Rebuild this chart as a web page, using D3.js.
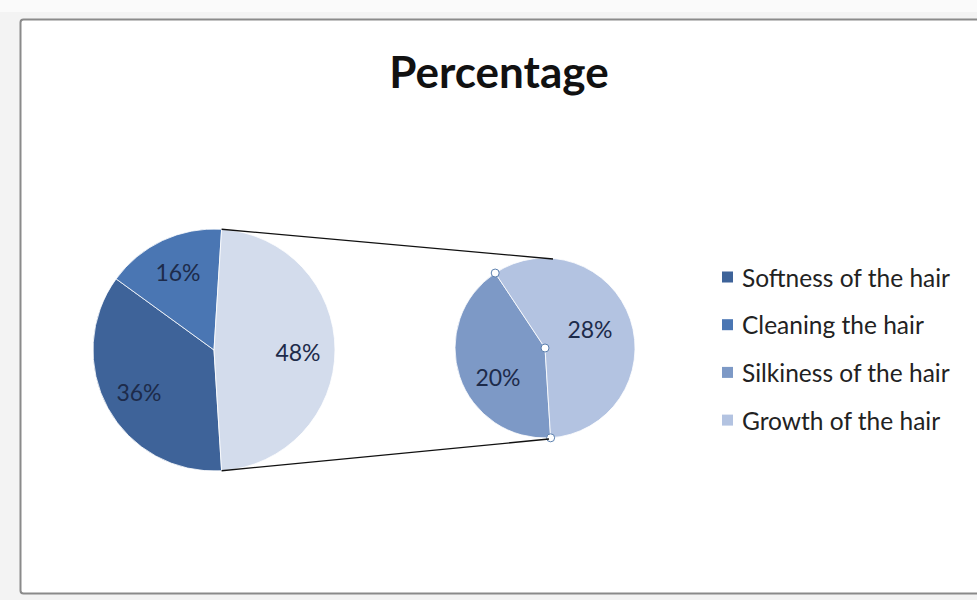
<!DOCTYPE html>
<html><head><meta charset="utf-8">
<script src="https://cdn.jsdelivr.net/npm/d3@7"></script>
<style>html,body{margin:0;padding:0;background:#fff;}svg{display:block;}</style>
</head><body>
<svg id="c" width="977" height="600"></svg>
<script>
const title = "Percentage";
const categories = ["Softness of the hair", "Cleaning the hair", "Silkiness of the hair", "Growth of the hair"];
const values = [36, 16, 20, 28];
const primaryLabels = ["36%", "16%", "48%"];
const secondaryLabels = ["20%", "28%"];
const colors = ["#3e6399", "#4a76b3", "#7d99c6", "#b3c3e1"];
const otherColor = "#d3dcec";
const FONT = "Lato, 'Open Sans', sans-serif";

const svg = d3.select("#c");
// sheet background + chart frame
svg.append("rect").attr("width",977).attr("height",600).attr("fill","#f3f3f3");
svg.append("rect").attr("x",0).attr("y",0).attr("width",977).attr("height",12).attr("fill","#fafafa");
svg.append("rect").attr("x",20.5).attr("y",19.5).attr("width",970).attr("height",574)
  .attr("rx",3).attr("fill","#fff").attr("stroke","#8a8a8a").attr("stroke-width",2);

svg.append("text").attr("x",499).attr("y",88).attr("text-anchor","middle")
  .attr("font-family",FONT).attr("font-weight","bold")
  .attr("font-size",44).attr("fill","#111").text(title);

const deg = Math.PI/180;
// primary pie: Other slice centered at 90deg (right)
const otherVal = values[2] + values[3];
const primaryVals = [values[0], values[1], otherVal];
const total = d3.sum(primaryVals);
const otherSpan = otherVal/total*360;
const otherStart = 90 - otherSpan/2;
const otherEnd = 90 + otherSpan/2;

const c1 = {x:214, y:350, r:121};
const c2 = {x:545, y:348, r:90};

const pie1 = d3.pie().sort(null).value(d=>d)
  .startAngle(otherEnd*deg).endAngle((otherEnd+360)*deg);
const arcs1 = pie1(primaryVals);
const arc1 = d3.arc().innerRadius(0).outerRadius(c1.r);
const g1 = svg.append("g").attr("transform",`translate(${c1.x},${c1.y})`);
const fill1 = [colors[0], colors[1], otherColor];
g1.selectAll("path").data(arcs1).join("path").attr("d",arc1)
  .attr("fill",(d,i)=>fill1[i]).attr("stroke","#ffffff").attr("stroke-width",0.8);
const labPos1 = [[-75,42],[-36,-78],[84,2]];
g1.selectAll("text").data(arcs1).join("text")
  .attr("x",(d,i)=>labPos1[i][0]).attr("y",(d,i)=>labPos1[i][1])
  .attr("text-anchor","middle").attr("dominant-baseline","central")
  .attr("font-family",FONT).attr("font-size",23)
  .attr("fill","#1d2b4a").text((d,i)=>primaryLabels[i]);

// secondary pie
const secVals = [values[2], values[3]];
const secStart = 176.4;
const pie2 = d3.pie().sort(null).value(d=>d)
  .startAngle(secStart*deg).endAngle((secStart+360)*deg);
const arcs2 = pie2(secVals);
const arc2 = d3.arc().innerRadius(0).outerRadius(c2.r);
const g2 = svg.append("g").attr("transform",`translate(${c2.x},${c2.y})`);
g2.selectAll("path").data(arcs2).join("path").attr("d",arc2)
  .attr("fill",(d,i)=>colors[2+i]).attr("stroke","#ffffff").attr("stroke-width",0.8);
const labPos2 = [[-47,29],[45,-19]];
g2.selectAll("text").data(arcs2).join("text")
  .attr("x",(d,i)=>labPos2[i][0]).attr("y",(d,i)=>labPos2[i][1])
  .attr("text-anchor","middle").attr("dominant-baseline","central")
  .attr("font-family",FONT).attr("font-size",23)
  .attr("fill","#1d2b4a").text((d,i)=>secondaryLabels[i]);

// selection handles on Silkiness slice
const sel = arcs2[0];
const handles = [[0,0],
  [c2.r*Math.sin(sel.startAngle), -c2.r*Math.cos(sel.startAngle)],
  [c2.r*Math.sin(sel.endAngle), -c2.r*Math.cos(sel.endAngle)]];
g2.selectAll("circle").data(handles).join("circle")
  .attr("cx",d=>d[0]).attr("cy",d=>d[1]).attr("r",4)
  .attr("fill","#ffffff").attr("stroke","#5b7fae").attr("stroke-width",1);

// connector lines
const topP = [c1.x + c1.r*Math.sin(otherStart*deg), c1.y - c1.r*Math.cos(otherStart*deg)];
const botP = [c1.x + c1.r*Math.sin(otherEnd*deg), c1.y - c1.r*Math.cos(otherEnd*deg)];
svg.append("line").attr("x1",topP[0]).attr("y1",topP[1]).attr("x2",c2.x+8).attr("y2",c2.y-c2.r+1)
  .attr("stroke","#111").attr("stroke-width",1.3);
svg.append("line").attr("x1",botP[0]).attr("y1",botP[1]).attr("x2",c2.x+4).attr("y2",c2.y+c2.r+1)
  .attr("stroke","#111").attr("stroke-width",1.3);

// legend
const leg = svg.append("g").attr("transform","translate(722,277)");
const rows = leg.selectAll("g").data(categories).join("g")
  .attr("transform",(d,i)=>`translate(0,${i*47.7})`);
rows.append("rect").attr("x",0).attr("y",-5.5).attr("width",11).attr("height",11)
  .attr("fill",(d,i)=>colors[i]);
rows.append("text").attr("x",20).attr("y",0).attr("dominant-baseline","central")
  .attr("font-family",FONT).attr("font-size",24.5)
  .attr("fill","#222").text(d=>d);
</script>
</body></html>
